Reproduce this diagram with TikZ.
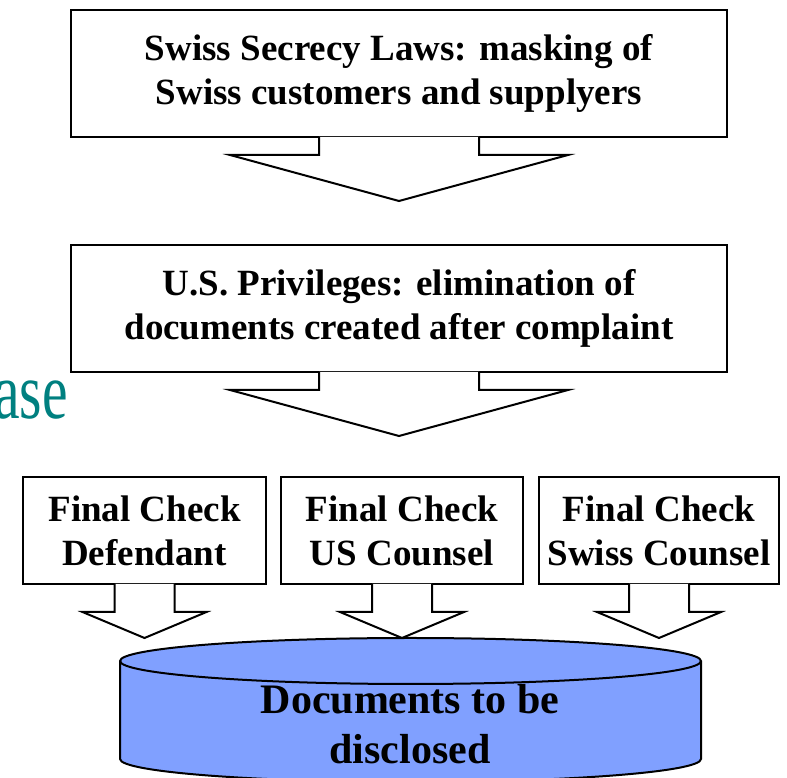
\documentclass[tikz,border=0pt]{standalone}
\usepackage{fontspec}
\setmainfont{Liberation Serif}
\begin{document}
\begin{tikzpicture}[x=1pt,y=1pt,
  box/.style={draw=black, line width=2pt, fill=white, inner sep=0pt, align=center,
    font=\fontsize{37}{44}\selectfont\bfseries},
  bigbox/.style={box, minimum width=656pt, minimum height=127pt},
  smallbox/.style={box, minimum height=107pt},
  blockarrow/.style={draw=black, line width=2pt, fill=white, line join=miter},
  cylshape/.style={draw=black, line width=2pt, fill=cylblue}
]
\definecolor{cylblue}{RGB}{128,160,255}
\definecolor{tealtitle}{RGB}{0,128,128}
\clip (0,0) rectangle (787,778);
\useasboundingbox (0,0) rectangle (787,778);

% title fragment
\node[anchor=base east, inner sep=0pt, text=tealtitle,
      font=\fontsize{80}{90}\selectfont] (title) at (68,359) {\scalebox{0.72}[1]{ase}};

% top boxes
\node[bigbox] (b1) at (399,704.5) {Swiss Secrecy Laws: masking of\\Swiss customers and supplyers};
\node[bigbox] (b2) at (399,469.5) {U.S. Privileges: elimination of\\documents created after complaint};

% big block arrows
\path[blockarrow] ([xshift=-80pt,yshift=1pt]b1.south) -- ++(0,-18) -- ++(-89,0)
   -- ++(169,-46) -- ++(169,46) -- ++(-89,0) -- ++(0,18);
\path[blockarrow] ([xshift=-80pt,yshift=1pt]b2.south) -- ++(0,-18) -- ++(-89,0)
   -- ++(169,-46) -- ++(169,46) -- ++(-89,0) -- ++(0,18);

% final check boxes
\node[smallbox, minimum width=243pt] (fa) at (144.5,247.5) {Final Check\\Defendant};
\node[smallbox, minimum width=242pt] (fb) at (402,247.5) {Final Check\\US Counsel};
\node[smallbox, minimum width=240pt] (fc) at (659,247.5) {Final Check\\Swiss Counsel};

% small block arrows
\foreach \n in {fa,fb,fc}{
  \path[blockarrow] ([xshift=-30pt,yshift=1pt]\n.south) -- ++(0,-28) -- ++(-32,0)
     -- ++(62,-26) -- ++(62,26) -- ++(-32,0) -- ++(0,28);
}

% cylinder
\path[cylshape] (120,117) -- (120,19)
   arc[start angle=180, end angle=360, x radius=290.5, y radius=23]
   -- (701,117)
   arc[start angle=0, end angle=180, x radius=290.5, y radius=23] -- cycle;
\draw[line width=2pt] (120,117) arc[start angle=180, end angle=360, x radius=290.5, y radius=23];
\node[align=center, inner sep=0pt, font=\fontsize{42}{50}\selectfont\bfseries] (docs) at (410,54)
   {Documents to be\\disclosed};
\end{tikzpicture}
\end{document}
